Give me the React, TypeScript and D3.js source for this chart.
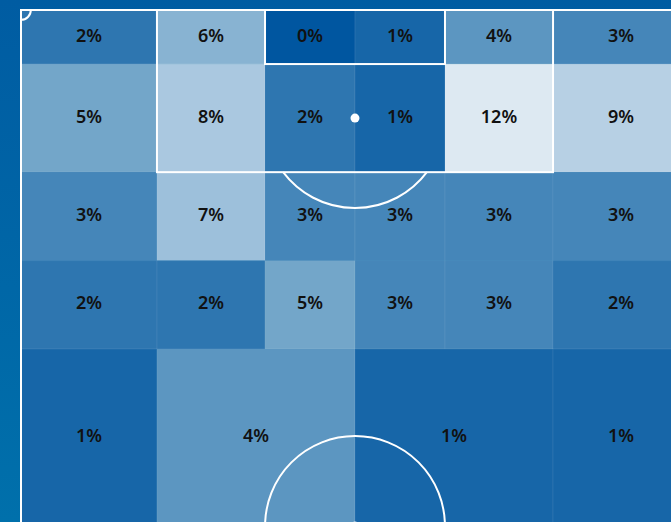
import React, { useEffect, useRef } from 'react'

import * as d3 from 'd3'

// pitch in metres: x across the pitch (0-68), y down from the goal line (0-52.5)
const colEdges = [0, 13.84, 24.84, 34, 43.16, 54.16, 68]
const rowEdges = [0, 5.5, 16.5, 25.5, 34.5, 52.5]

// share of actions per zone, row by row from the goal line
const sixYardRow = [2, 6, 0, 1, 4, 3]
const boxRow = [5, 8, 2, 1, 12, 9]
const edgeRow = [3, 7, 3, 3, 3, 3]
const midRow = [2, 2, 5, 3, 3, 2]
// last row has merged zones: [firstCol, lastCol]
const deepSpans = [
  [0, 1],
  [1, 3],
  [3, 5],
  [5, 6],
]
const deepRow = [1, 4, 1, 1]

const W = 671
const H = 522

const App = () => {
  const svgRef = useRef<SVGSVGElement>(null)

  useEffect(() => {
    if (!svgRef.current) return

    const x = d3.scaleLinear().domain([0, 68]).range([21, 689])
    const y = d3.scaleLinear().domain([0, 52.5]).range([10, 526])
    const color = d3
      .scaleLinear<string>()
      .domain([0, 5, 7, 12])
      .range(['#0056a0', '#73a6c9', '#9dc0db', '#dde9f2'])

    const svg = d3.select(svgRef.current)

    const defs = svg.append('defs')
    const grad = defs
      .append('linearGradient')
      .attr('id', 'bg')
      .attr('x1', 0)
      .attr('y1', 0)
      .attr('x2', 0)
      .attr('y2', 1)
    grad.append('stop').attr('offset', 0).attr('stop-color', '#005ca2')
    grad.append('stop').attr('offset', 1).attr('stop-color', '#0070ab')

    svg.append('rect').attr('width', W).attr('height', H).attr('fill', 'url(#bg)')

    // build zone list
    type Zone = { x0: number; x1: number; y0: number; y1: number; v: number }
    const zones: Zone[] = []
    ;[sixYardRow, boxRow, edgeRow, midRow].forEach((row, r) => {
      row.forEach((v, c) => {
        zones.push({
          x0: colEdges[c],
          x1: colEdges[c + 1],
          y0: rowEdges[r],
          y1: rowEdges[r + 1],
          v,
        })
      })
    })
    deepSpans.forEach(([a, b], i) => {
      zones.push({
        x0: colEdges[a],
        x1: colEdges[b],
        y0: rowEdges[4],
        y1: rowEdges[5],
        v: deepRow[i],
      })
    })

    const g = svg.append('g')
    g.selectAll('rect')
      .data(zones)
      .join('rect')
      .attr('x', (d) => x(d.x0))
      .attr('y', (d) => y(d.y0))
      .attr('width', (d) => x(d.x1) - x(d.x0))
      .attr('height', (d) => y(d.y1) - y(d.y0))
      .attr('fill', (d) => color(d.v))
      .attr('stroke', 'rgba(255,255,255,0.07)')
      .attr('stroke-width', 1)

    // pitch markings
    const lines = svg
      .append('g')
      .attr('fill', 'none')
      .attr('stroke', '#fff')
      .attr('stroke-width', 2)

    lines
      .append('rect')
      .attr('x', x(0))
      .attr('y', y(0))
      .attr('width', x(68) - x(0))
      .attr('height', y(105) - y(0))

    // penalty box and six-yard box
    lines
      .append('rect')
      .attr('x', x(34 - 20.16))
      .attr('y', y(0))
      .attr('width', x(34 + 20.16) - x(34 - 20.16))
      .attr('height', y(16.5) - y(0))
    lines
      .append('rect')
      .attr('x', x(34 - 9.16))
      .attr('y', y(0))
      .attr('width', x(34 + 9.16) - x(34 - 9.16))
      .attr('height', y(5.5) - y(0))

    const r = y(9.15) - y(0)

    // penalty arc, outside the box only
    const half = Math.acos((16.5 - 11) / 9.15)
    const arc = d3.path()
    arc.arc(x(34), y(11), r, Math.PI / 2 - half, Math.PI / 2 + half)
    lines.append('path').attr('d', arc.toString())

    // centre circle
    lines.append('circle').attr('cx', x(34)).attr('cy', y(52.5)).attr('r', r)
    lines
      .append('line')
      .attr('x1', x(0))
      .attr('x2', x(68))
      .attr('y1', y(52.5))
      .attr('y2', y(52.5))

    // corner arc
    const corner = d3.path()
    corner.arc(x(0), y(0), y(1) - y(0), 0, Math.PI / 2)
    lines.append('path').attr('d', corner.toString())

    svg
      .append('circle')
      .attr('cx', x(34))
      .attr('cy', y(11))
      .attr('r', 4.5)
      .attr('fill', '#fff')
    svg
      .append('circle')
      .attr('cx', x(34))
      .attr('cy', y(52.5))
      .attr('r', 4.5)
      .attr('fill', '#fff')

    // labels
    svg
      .append('g')
      .selectAll('text')
      .data(zones)
      .join('text')
      .attr('x', (d) => x((d.x0 + d.x1) / 2))
      .attr('y', (d) => y((d.y0 + d.y1) / 2))
      .attr('dy', '0.25em')
      .attr('text-anchor', 'middle')
      .attr('font-family', "'Noto Sans', sans-serif")
      .attr('font-size', 18)
      .attr('font-weight', 600)
      .attr('fill', '#111')
      .text((d) => `${d.v}%`)

    return () => {
      svg.selectAll('*').remove()
    }
  }, [])

  return (
    <svg
      ref={svgRef}
      width={W}
      height={H}
      style={{ position: 'absolute', left: 0, top: 0, display: 'block' }}
    />
  )
}

export default App
